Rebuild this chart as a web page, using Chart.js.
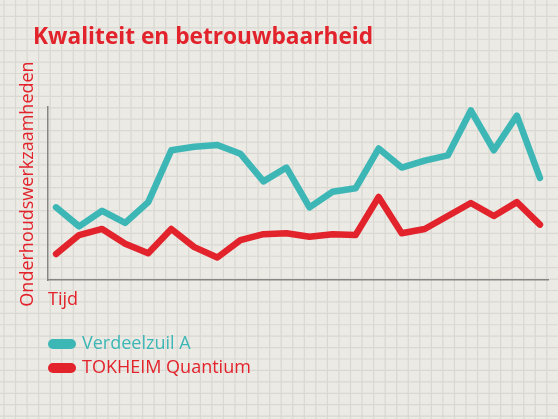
<!DOCTYPE html>
<html>
<head>
<meta charset="utf-8">
<script src="https://cdn.jsdelivr.net/npm/chart.js@4"></script>
<style>
  html, body { margin: 0; padding: 0; background: #ebeae5; }
  #wrap { width: 558px; height: 419px; position: relative; }
</style>
</head>
<body>
<div id="wrap"><canvas id="kwaliteitChart" width="558" height="419"></canvas></div>
<script>
// tijdstippen (x-as heeft geen labels)
const periods = [1, 2, 3, 4, 5, 6, 7, 8, 9, 10, 11, 12, 13, 14, 15, 16, 17, 18, 19, 20, 21, 22];
// onderhoudswerkzaamheden per tijdstip (relatieve schaal 0-100)
const verdeelzuilA = [42, 31, 40, 33, 45, 75, 77, 78, 73, 57, 65, 42, 51, 53, 76, 65, 69, 72, 98, 75, 95, 59];
const tokheimQuantium = [15, 26, 29.5, 21, 15.5, 29.5, 19, 13, 23, 26.5, 27, 25, 26.5, 26, 48, 27, 29.5, 37, 44.5, 37, 45, 32];

const seriesNames = ['Verdeelzuil A', 'TOKHEIM Quantium'];
const TEAL = '#3db7b6';
const RED = '#e2232b';

function toPoints(values) {
    return periods.map((p, i) => ({ x: p, y: values[i] }));
}

// ruitjespapier, titel, aslabels en legenda
const paperPlugin = {
    id: 'paper',
    beforeDraw(chart) {
        const ctx = chart.ctx;
        const w = chart.width, h = chart.height;
        ctx.save();
        ctx.fillStyle = '#ebeae5';
        ctx.fillRect(0, 0, w, h);
        ctx.strokeStyle = '#d9d8d2';
        ctx.lineWidth = 1.2;
        for (let x = 4; x < w; x += 11.55) {
            ctx.beginPath(); ctx.moveTo(x, 0); ctx.lineTo(x, h); ctx.stroke();
        }
        for (let y = 5; y < h; y += 11.42) {
            ctx.beginPath(); ctx.moveTo(0, y); ctx.lineTo(w, y); ctx.stroke();
        }
        ctx.restore();
    },
    afterDraw(chart) {
        const ctx = chart.ctx;
        const area = chart.chartArea;
        ctx.save();
        ctx.fillStyle = RED;
        ctx.textBaseline = 'alphabetic';
        ctx.textAlign = 'left';
        ctx.font = 'bold 22.7px "Open Sans"';
        ctx.fillText('Kwaliteit en betrouwbaarheid', 33, 44);

        ctx.font = '18px "Open Sans"';
        ctx.fillText('Tijd', area.left, 305);

        ctx.save();
        ctx.translate(33, 184);
        ctx.rotate(-Math.PI / 2);
        ctx.textAlign = 'center';
        ctx.fillText('Onderhoudswerkzaamheden', 0, 0);
        ctx.restore();

        // legenda
        chart.data.datasets.forEach((ds, i) => {
            const cy = 344 + i * 24;
            ctx.fillStyle = ds.borderColor;
            ctx.beginPath();
            ctx.roundRect(area.left, cy - 5, 28, 10, 5);
            ctx.fill();
            ctx.font = '18px "Open Sans"';
            ctx.textBaseline = 'middle';
            ctx.fillText(ds.label, 82, cy);
        });
        ctx.restore();
    }
};

new Chart(document.getElementById('kwaliteitChart'), {
    type: 'line',
    data: {
        datasets: [
            {
                label: seriesNames[0],
                data: toPoints(verdeelzuilA),
                borderColor: TEAL,
                backgroundColor: TEAL,
                borderWidth: 6.5,
                tension: 0,
                pointRadius: 0,
                borderJoinStyle: 'round',
                borderCapStyle: 'round'
            },
            {
                label: seriesNames[1],
                data: toPoints(tokheimQuantium),
                borderColor: RED,
                backgroundColor: RED,
                borderWidth: 6.5,
                tension: 0,
                pointRadius: 0,
                borderJoinStyle: 'round',
                borderCapStyle: 'round'
            }
        ]
    },
    options: {
        responsive: false,
        animation: false,
        layout: { padding: { left: 48, right: 10, top: 107, bottom: 139 } },
        plugins: {
            legend: { display: false },
            tooltip: { enabled: false },
            title: { display: false }
        },
        scales: {
            x: {
                type: 'linear',
                min: 0.65,
                max: 22.35,
                ticks: { display: false },
                grid: { display: false, drawTicks: false },
                border: { display: true, color: '#858583', width: 1.5 }
            },
            y: {
                min: 0,
                max: 100,
                ticks: { display: false },
                grid: { display: false, drawTicks: false },
                border: { display: true, color: '#858583', width: 1.5 }
            }
        }
    },
    plugins: [paperPlugin]
});
</script>
</body>
</html>
